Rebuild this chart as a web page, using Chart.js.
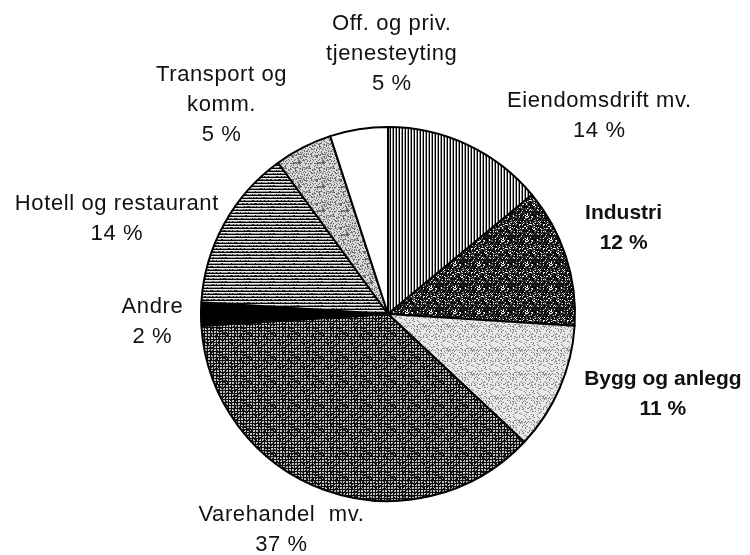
<!DOCTYPE html>
<html>
<head>
<meta charset="utf-8">
<script src="https://cdn.jsdelivr.net/npm/chart.js@4.4.0/dist/chart.umd.min.js"></script>
<style>
  html, body { margin: 0; padding: 0; background: #fff; }
  #wrap { width: 750px; height: 555px; }
</style>
</head>
<body>
<div id="wrap"><canvas id="pie" width="750" height="555"></canvas></div>
<script>
// Data, clockwise from 12 o'clock
const categories = [
  ['Eiendomsdrift mv.'],
  ['Industri'],
  ['Bygg og anlegg'],
  ['Varehandel  mv.'],
  ['Andre'],
  ['Hotell og restaurant'],
  ['Transport og', 'komm.'],
  ['Off. og priv.', 'tjenesteyting']
];
const shares = [14, 12, 11, 37, 2, 14, 5, 5];
const boldLabel = [false, true, true, false, false, false, false, false];

// label anchor, relative to pie centre in radius units
const labelPos = [
  [1.13, -1.06], [1.26, -0.46], [1.47, 0.43], [-0.57, 1.155],
  [-1.26, 0.04], [-1.45, -0.51], [-0.89, -1.12], [0.02, -1.39]
];

// deterministic hash for stipple textures
function h(x, y, s) {
  let n = (x * 374761393 + y * 668265263 + s * 1442695041) | 0;
  n = (n ^ (n >>> 13)) * 1274126177 | 0;
  return ((n ^ (n >>> 16)) >>> 0) / 4294967295;
}

function makePattern(size, fn) {
  const c = document.createElement('canvas');
  c.width = size; c.height = size;
  const g = c.getContext('2d');
  const img = g.createImageData(size, size);
  for (let y = 0; y < size; y++) {
    for (let x = 0; x < size; x++) {
      const v = fn(x, y);
      const i = (y * size + x) * 4;
      img.data[i] = img.data[i + 1] = img.data[i + 2] = v;
      img.data[i + 3] = 255;
    }
  }
  g.putImageData(img, 0, 0);
  return g.createPattern(c, 'repeat');
}

const ctx = document.getElementById('pie').getContext('2d');

const fills = [
  // vertical lines
  makePattern(24, (x, y) => (x % 3 === 0 ? 0 : (x % 3 === 1 ? 255 : 150))),
  // dark stipple
  makePattern(24, (x, y) => (h(x, y, 1) < 0.15 ? 235 : (h(x, y, 2) < 0.25 ? 80 : 10))),
  // light stipple
  makePattern(24, (x, y) => (h(x, y, 3) < 0.22 ? 140 : 232)),
  // dense grid
  makePattern(24, (x, y) => (x % 3 === 0 || y % 3 === 0 ? 10 : (h(x, y, 4) < 0.2 ? 30 : 190))),
  '#000000',
  // horizontal lines
  makePattern(24, (x, y) => (y % 3 === 0 ? 0 : (y % 3 === 1 ? 235 : (h(x, y, 5) < 0.3 ? 40 : 150)))),
  // light stipple, a bit darker
  makePattern(24, (x, y) => (h(x, y, 6) < 0.35 ? 110 : 215)),
  '#ffffff'
];

const labelFont = '"Liberation Sans", Arial, sans-serif';

const outsideLabels = {
  id: 'outsideLabels',
  afterDraw(chart) {
    const arc = chart.getDatasetMeta(0).data[0];
    if (!arc) return;
    const cx = arc.x, cy = arc.y, r = arc.outerRadius;
    const g = chart.ctx;
    g.save();
    g.fillStyle = '#111';
    g.textAlign = 'center';
    g.textBaseline = 'middle';
    const lh = 30;
    categories.forEach((lines, i) => {
      const all = lines.concat([shares[i] + ' %']);
      const ax = cx + labelPos[i][0] * r;
      const ay = cy + labelPos[i][1] * r;
      const y0 = ay - (all.length - 1) * lh / 2;
      if ('letterSpacing' in g) g.letterSpacing = boldLabel[i] ? '0px' : '0.6px';
      g.font = (boldLabel[i] ? 'bold 21px ' : '22px ') + labelFont;
      all.forEach((t, j) => {
        g.fillText(t, ax, y0 + j * lh);
      });
    });
    g.restore();
  }
};

new Chart(ctx, {
  type: 'pie',
  data: {
    labels: categories.map(l => l.join(' ')),
    datasets: [{
      data: shares,
      backgroundColor: fills,
      borderColor: '#000',
      borderWidth: 2
    }]
  },
  options: {
    responsive: false,
    animation: false,
    layout: { padding: { top: 126, bottom: 53, left: 200, right: 174 } },
    plugins: {
      legend: { display: false },
      tooltip: { enabled: false }
    }
  },
  plugins: [outsideLabels]
});
</script>
</body>
</html>
